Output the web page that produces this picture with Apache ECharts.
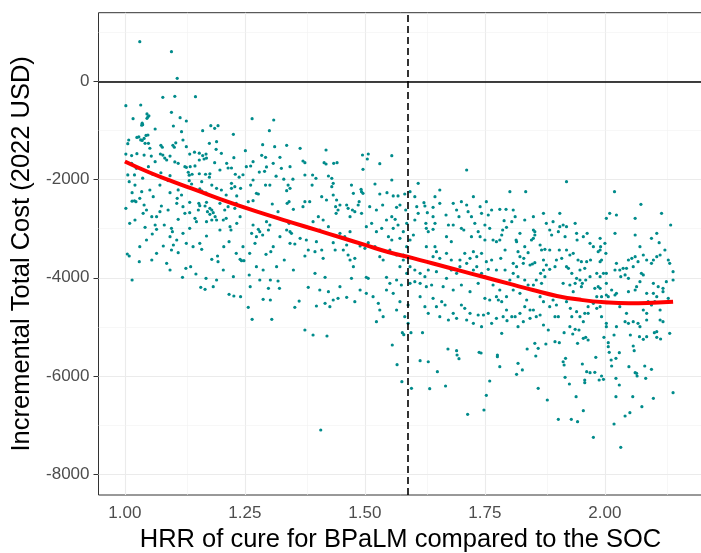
<!DOCTYPE html>
<html><head><meta charset="utf-8">
<script src="https://cdn.jsdelivr.net/npm/echarts@6/dist/echarts.min.js"></script>
<style>html,body{margin:0;padding:0;background:#fff}#c{width:701px;height:553px}</style>
</head><body><div id="c"></div>
<script>
// Scatter points: [HRR, incremental cost]
const points = [
[1.031,811],[1.097,607],[1.109,65],[1.002,-493],[1.033,-479],[1.079,-322],[1.104,-302],[1.147,-309],[1.017,-758],[1.046,-660],[1.048,-720],[1.050,-700],[1.046,-750],[1.035,-890],[1.036,-850],[1.037,-880],[1.097,-628],[1.115,-737],[1.128,-805],[1.063,-968],[1.101,-907],[1.008,-1192],[1.006,-1268],[1.025,-1140],[1.029,-1130],[1.033,-1190],[1.036,-1200],[1.040,-1160],[1.044,-1100],[1.048,-1090],[1.042,-1260],[1.049,-1260],[1.052,-1360],[1.075,-1300],[1.078,-1340],[1.100,-1300],[1.103,-1340],[1.106,-1250],[1.128,-1328],[1.002,-1480],[1.014,-1510],[1.025,-1470],[1.040,-1500],[1.055,-1520],[1.079,-1500],[1.083,-1560],[1.094,-1520],[1.104,-1640],[1.135,-1480],[1.145,-1440],[1.155,-1460],[1.162,-1510],[1.169,-1480],[1.165,-1580],[1.170,-1560],[1.155,-1600],[1.187,-1655],[1.227,-1553],[1.285,-1504],[1.293,-1545],[1.323,-1545],[1.125,-1736],[1.128,-1750],[1.136,-1736],[1.146,-1720],[1.215,-1763],[1.222,-1763],[1.262,-1722],[1.246,-1900],[1.280,-1845],[1.291,-1830],[1.295,-1740],[1.006,-1905],[1.020,-1905],[1.037,-1970],[1.058,-1890],[1.075,-1860],[1.132,-1850],[1.134,-1910],[1.140,-1890],[1.155,-1880],[1.168,-1890],[1.177,-1880],[1.176,-1950],[1.315,-1930],[1.331,-1990],[1.350,-1990],[1.230,-1890],[1.238,-1950],[1.094,-1920],[1.162,-1003],[1.179,-900],[1.187,-955],[1.194,-900],[1.176,-1260],[1.190,-1382],[1.226,-1077],[1.265,-758],[1.310,-785],[1.301,-1003],[1.287,-1288],[1.312,-1328],[1.337,-1300],[1.251,-1410],[1.111,-1667],[1.074,-1478],
[1.198,-1804],[1.212,-1667],[1.253,-1736],[1.267,-1634],[1.309,-1667],[1.326,-1769],[1.344,-1736],[1.191,-1227],[1.201,-1463],[1.121,-1192],[1.118,-1023],[1.087,-1600],[1.063,-1634],[1.049,-1736],[1.014,-1667],[1.024,-1769],
[1.009,-2042],[1.021,-2110],[1.015,-2266],[1.015,-2440],[1.020,-2430],[1.023,-2450],[1.002,-2585],[1.040,-2517],[1.073,-2110],[1.090,-2020],[1.094,-2266],[1.111,-2210],[1.118,-2313],[1.109,-2380],[1.134,-2021],[1.139,-2089],[1.160,-2042],[1.156,-2190],[1.160,-2230],[1.169,-2270],[1.181,-2110],[1.191,-2177],[1.201,-2211],[1.211,-2313],[1.222,-2177],[1.229,-2143],[1.233,-2333],[1.222,-2075],[1.135,-2462],[1.154,-2483],[1.156,-2531],[1.170,-2462],[1.167,-2537],[1.177,-2585],[1.172,-2653],[1.181,-2619],[1.184,-2673],[1.177,-2707],[1.188,-2755],[1.181,-2823],[1.170,-2857],[1.191,-2823],[1.205,-2823],[1.211,-2789],[1.153,-2619],[1.146,-2789],[1.149,-2857],[1.125,-2687],[1.135,-2673],[1.111,-2809],[1.056,-2755],[1.066,-2755],[1.063,-2925],[1.066,-3013],[1.076,-2537],[1.073,-2653],[1.090,-2619],[1.082,-2925],[1.097,-2992],[1.099,-3061],[1.094,-3163],[1.042,-2971],[1.057,-3108],[1.080,-3353],[1.097,-3434],[1.101,-3332],[1.111,-3489],[1.005,-3516],[1.009,-3556],[1.030,-3672],[1.015,-4045],[1.160,-3420],[1.170,-3149],[1.181,-3624],[1.193,-3556],[1.194,-3672],[1.206,-3366],[1.217,-3265],[1.221,-3026],[1.232,-3502],[1.240,-3624],[1.243,-3652],[1.248,-3652],[1.127,-3807],[1.137,-3774],[1.120,-3990],[1.148,-3923],[1.169,-4011],[1.158,-4194],[1.167,-4235],[1.217,-4337],[1.227,-4372],[1.241,-4386],[1.257,-4602],[1.265,-4846],[1.306,-4846],[1.259,-3944],[1.261,-4181],[1.281,-4045],[1.303,-4045],[1.319,-4066],[1.299,-4215],[1.322,-4215],[1.288,-4439],[1.303,-4453],[1.363,-4474],[1.354,-4602],[1.267,-2925],[1.281,-3061],[1.295,-2857],[1.302,-2925],[1.299,-3026],[1.278,-3013],[1.287,-3128],[1.271,-3298],[1.294,-3522],[1.304,-3469],[1.309,-3367],[1.332,-3638],[1.344,-3298],[1.354,-3312],[1.344,-3061],[1.342,-2890],[1.351,-2605],[1.338,-2483],[1.342,-2449],[1.319,-2653],[1.307,-2497],[1.257,-2449],[1.267,-2429],[1.274,-2279],[1.278,-2293],[1.262,-2110],[1.267,-2007],[1.293,-2110],[1.302,-2110],[1.340,-2110],[1.344,-2177],[1.337,-2225],[1.241,-2177],[1.229,-2585],[1.232,-2483],[1.347,-3094],[1.264,-3094],[1.274,-3163],
[1.052,-2211],[1.059,-2347],[1.035,-2246],[1.031,-2381],[1.045,-2619],[1.038,-2686],[1.021,-2823],[1.010,-2890],[1.108,-2483],[1.121,-2551],[1.198,-2483],[1.208,-2619],[1.215,-2551],[1.240,-2755],[1.233,-2890],[1.219,-2959],[1.198,-3026],[1.135,-2992],[1.121,-3094],[1.108,-3230],[1.128,-3298],[1.045,-3230],[1.031,-3366],[1.142,-3366],[1.156,-3298],[1.246,-3366],[1.260,-3502],[1.323,-3163],[1.337,-3026],[1.316,-3774],[1.351,-3842],[1.274,-3774],[1.288,-3842],[1.205,-3842],[1.226,-3977],[1.191,-4045],[1.184,-4181],[1.087,-3706],[1.094,-3842],[1.066,-3502],[1.056,-3638],
[1.365,-1361],[1.371,-1620],[1.375,-1655],[1.419,-1396],[1.415,-1655],[1.419,-1681],[1.435,-1667],[1.442,-1655],[1.495,-1498],[1.507,-1478],[1.505,-1580],[1.531,-1675],[1.556,-1512],[1.496,-1790],
[1.375,-1906],[1.391,-1906],[1.398,-1973],[1.424,-1926],[1.390,-2110],[1.431,-1973],[1.431,-2143],[1.434,-2075],[1.375,-2449],[1.385,-2449],[1.371,-2551],[1.410,-2347],[1.420,-2415],[1.434,-2313],[1.441,-2415],[1.448,-2517],[1.439,-2551],[1.444,-2619],[1.440,-2686],[1.462,-2517],[1.465,-2585],[1.486,-2517],[1.488,-2449],[1.493,-2686],[1.479,-2653],[1.469,-2755],[1.474,-2619],[1.472,-2110],[1.476,-2279],[1.493,-2246],[1.496,-2279],[1.492,-2197],[1.521,-2089],[1.531,-2293],[1.556,-2007],[1.546,-2266],[1.559,-2333],[1.569,-2333],[1.583,-2293],[1.594,-2246],[1.611,-2075],[1.604,-2347],[1.510,-2551],[1.524,-2619],[1.537,-2517],[1.545,-2823],[1.556,-2755],[1.563,-2809],[1.566,-2564],[1.573,-2517],[1.585,-2619],[1.623,-2470],[1.625,-2537],[1.642,-2564],[1.630,-2673],[1.627,-2890],[1.628,-2992],[1.632,-3061],[1.642,-3012],[1.646,-2890],[1.656,-2211],[1.669,-2721],[1.674,-2925],[1.684,-2925],[1.691,-2619],[1.696,-2755],[1.701,-2992],[1.706,-3026],[1.715,-2653],[1.722,-2755],[1.729,-2890],[1.736,-3061],[1.722,-3163],[1.750,-2925],[1.743,-2686],[1.757,-2721],[1.767,-3230],[1.774,-3265],[1.760,-2992],
[1.403,-2755],[1.413,-2823],[1.392,-2857],[1.424,-2959],[1.406,-3026],[1.385,-2992],[1.448,-3094],[1.458,-3163],[1.469,-3061],[1.503,-2959],[1.514,-2890],[1.524,-3061],[1.535,-2992],[1.559,-2992],[1.569,-2925],[1.580,-3061],[1.587,-2890],[1.608,-2551],[1.611,-2686],[1.604,-2823],[1.594,-3774],[1.587,-3909],[1.604,-3842],[1.580,-3638],[1.573,-3774],[1.628,-3366],[1.632,-3842],[1.625,-3977],[1.615,-3909],[1.680,-3842],[1.691,-3909],[1.698,-3774],[1.726,-3842],[1.733,-3774],[1.740,-3163],[1.750,-3230],[1.670,-3163],[1.680,-3265],[1.684,-2483],[1.701,-2449],[1.712,-2517],[1.726,-2347],[1.740,-2551],[1.753,-2449],[1.764,-2619],[1.646,-2347],[1.656,-2483],[1.642,-2755],[1.406,-4249],[1.448,-4181],[1.490,-4249],[1.503,-4317],[1.479,-4487],[1.538,-4793],[1.524,-4895],[1.656,-4793],[1.674,-4861],[1.684,-4724],[1.712,-4861],[1.726,-4928],[1.743,-4997],[1.764,-4928],[1.774,-4826],
[1.365,-3196],[1.378,-3230],[1.382,-3434],[1.396,-3469],[1.410,-3434],[1.413,-3604],[1.399,-3265],[1.375,-3556],[1.434,-3285],[1.438,-3434],[1.455,-3434],[1.462,-3332],[1.465,-3536],[1.469,-3638],[1.476,-3774],[1.479,-3604],[1.490,-3353],[1.500,-3400],[1.507,-3285],[1.521,-3366],[1.531,-3571],[1.538,-3638],[1.549,-3163],[1.552,-3434],[1.556,-3230],[1.573,-3196],[1.566,-3536],[1.580,-3536],[1.587,-3366],[1.594,-3230],[1.601,-3128],[1.646,-3366],[1.649,-3469],[1.642,-3571],[1.656,-3604],[1.670,-3502],[1.680,-3638],[1.698,-3638],[1.708,-3502],[1.712,-3706],[1.719,-3604],[1.726,-3469],[1.733,-3571],[1.743,-3502],[1.753,-3672],[1.764,-3638],[1.774,-3842],[1.757,-3828],[1.743,-3909],
[1.396,-3909],[1.417,-3990],[1.472,-4011],[1.503,-3990],[1.507,-4011],[1.545,-3990],[1.552,-4113],[1.566,-4045],[1.576,-4147],[1.594,-4113],[1.604,-4080],[1.615,-4113],[1.628,-4181],[1.639,-4147],[1.649,-3876],[1.670,-4011],[1.663,-4181],[1.684,-4249],[1.701,-4147],[1.719,-4283],[1.736,-4113],[1.750,-3977],[1.767,-4147],[1.781,-4249],[1.774,-4386],[1.382,-4194],[1.424,-4283],[1.434,-4453],[1.444,-4419],[1.462,-4398],[1.427,-4589],[1.399,-4575],[1.417,-4521],[1.517,-4386],[1.528,-4521],[1.531,-4657],[1.545,-4249],[1.559,-4317],[1.573,-4487],[1.566,-4657],[1.583,-4793],[1.590,-4555],[1.615,-4386],[1.625,-4589],[1.632,-4724],[1.642,-4419],[1.649,-4589],[1.660,-4487],[1.667,-4555],[1.691,-4826],[1.701,-4555],[1.708,-4622],[1.736,-4759],[1.747,-4759],[1.757,-4724],[1.750,-4419],[1.760,-4453],[1.778,-4453],[1.719,-4724],[1.590,-4928],[1.712,-1804],
[1.375,-5064],[1.392,-5166],[1.421,-5187],[1.408,-7102],[1.578,-5119],[1.581,-5160],[1.596,-5119],[1.620,-5119],[1.557,-5370],[1.567,-5771],[1.577,-6118],[1.597,-6253],[1.615,-5690],[1.632,-5711],[1.651,-5914],[1.635,-6261],[1.668,-6206],[1.673,-5452],[1.691,-5486],[1.692,-5574],[1.696,-5649],[1.738,-5519],[1.742,-5533],[1.776,-5574],[1.776,-5608],[1.760,-6104],[1.753,-6396],[1.748,-6695],[1.714,-6783],
[1.785,-5132],[1.882,-5064],[1.915,-5119],[1.933,-5146],[1.946,-5064],[1.854,-5336],[1.861,-5438],[1.877,-5350],[1.896,-5302],[1.905,-5323],[1.838,-5452],[1.856,-5594],[1.781,-5812],[1.819,-5743],[1.828,-5879],[1.816,-5968],[1.861,-6253],[1.880,-6491],[1.903,-6884],[1.930,-6884],[1.943,-6933],[1.918,-5642],[1.913,-5711],[1.915,-5778],[1.926,-6165],[1.917,-6029],[1.940,-6424],[1.943,-5336],[1.955,-5234],[1.960,-5214],[1.965,-5268],[1.953,-5757],[1.962,-5914],[1.969,-5934],[1.979,-5927],[1.958,-6083],[1.958,-6138],[1.981,-5621],[1.988,-6083],[1.993,-6002],[1.997,-6069],[1.955,-6709],[1.976,-7251],[1.998,-5214],[2.007,-5323],[2.007,-5404],[2.009,-5519],[2.013,-5676],[2.014,-5798],[2.023,-5642],[2.030,-5527],[2.019,-5166],[2.023,-6049],[2.030,-6185],[2.023,-6424],[2.019,-6980],[2.033,-7455],[2.042,-6817],[2.052,-6750],[2.058,-6424],[2.050,-5812],[2.053,-5166],[2.059,-5390],[2.061,-5486],[2.066,-5947],[2.067,-6002],[2.063,-5934],[2.072,-5200],[2.080,-5254],[2.087,-5200],[2.083,-5798],[2.085,-6049],[2.097,-5866],[2.101,-6456],[2.077,-6627],[2.103,-5119],[2.108,-5098],[2.108,-5214],[2.116,-5248],[2.135,-5132],[2.142,-6342],
[1.802,-2245],[1.835,-2245],[1.920,-2042],[1.781,-2605],[1.794,-2605],[1.790,-2837],[1.806,-2857],[1.795,-2971],[1.787,-3026],[1.785,-3128],[1.781,-3230],[1.792,-3434],[1.783,-3604],[1.816,-3265],[1.819,-3469],[1.833,-3366],[1.831,-3604],[1.840,-3489],[1.847,-3230],[1.854,-3128],[1.851,-3026],[1.844,-3740],[1.854,-3693],[1.809,-3706],[1.816,-3774],[1.865,-3332],[1.868,-3434],[1.875,-3420],[1.885,-3434],[1.889,-3128],[1.885,-3026],[1.892,-2857],[1.878,-2890],[1.903,-3061],[1.906,-2959],[1.913,-2925],[1.920,-2959],[1.917,-3163],[1.905,-3434],[1.910,-3604],[1.899,-3638],[1.896,-3774],[1.885,-3828],[1.872,-3842],[1.866,-3909],[1.875,-3977],[1.868,-4113],[1.857,-4045],[1.851,-4147],[1.851,-3196],[1.849,-3719],[1.792,-3842],[1.819,-3977],[1.833,-4045],[1.840,-4147],[1.809,-4249],[1.823,-4317],[1.837,-4453],[1.795,-4386],[1.785,-4487],[1.806,-4793],[1.813,-4793],[1.833,-4589],[1.844,-4657],[1.844,-4826],[1.796,-4874],[1.872,-4963],[1.896,-4793],[1.903,-4793],[1.941,-3094],[1.942,-3230],[1.944,-3638],[1.951,-3672],[1.962,-3672],[1.970,-3638],[1.958,-3807],[1.948,-3842],[1.953,-4113],[1.941,-4011],[1.931,-3909],[1.924,-3807],[1.920,-3774],[1.913,-4113],[1.927,-4147],[1.938,-4113],[1.948,-4045],[1.951,-4181],[1.934,-4283],[1.928,-4622],[1.941,-4691],[1.948,-4793],[1.958,-4724],[1.965,-4724],[1.955,-4895],[1.931,-4793],[1.927,-4997],[1.938,-5051],[1.990,-3196],[2.000,-3298],[1.990,-3434],[1.986,-3469],[2.002,-3502],[1.993,-3638],[1.990,-3672],[2.003,-3909],[1.997,-3909],[1.990,-4215],[1.986,-4181],[1.979,-4215],[1.983,-4386],[1.993,-4386],[2.003,-4351],[2.007,-4386],[2.021,-4351],[2.024,-4317],[2.021,-3842],[2.031,-3842],[2.038,-3807],[2.045,-3807],[2.024,-3706],[2.049,-3638],[2.056,-3604],[2.063,-3571],[2.069,-3672],[2.059,-3774],[2.073,-3366],[2.063,-3128],[2.080,-3536],[2.087,-3638],[2.097,-3706],[2.101,-3638],[2.108,-3571],[2.115,-3536],[2.125,-3434],[2.132,-3638],[2.135,-3706],[2.142,-3876],[2.142,-4045],[2.128,-4080],[2.010,-2686],[2.003,-2789],[2.024,-2721],[2.021,-3094],[2.020,-2245],[2.063,-2789],[2.075,-2503],[2.118,-2686],[2.108,-3094],[2.097,-3196],[2.113,-3285],[2.137,-2925],[1.983,-4622],[1.990,-4589],[1.993,-4793],[2.003,-4928],[2.003,-4997],[2.024,-4997],[2.042,-4895],[2.049,-4928],[2.059,-4895],[2.069,-4928],[2.073,-4997],[2.087,-4861],[2.115,-4861],[2.121,-4895],[2.003,-4113],[2.014,-4249],[2.049,-4283],[2.073,-4080],[2.087,-4317],[2.101,-4317],[2.108,-4386],[2.121,-4215],[2.132,-4419],[2.115,-4657],[2.080,-4657],[2.087,-4724],[2.031,-4589],[2.045,-4724],
[1.872,-2686],[1.854,-3061],[1.823,-3094],[1.815,-3230],[1.991,-3366],[1.960,-4045],[1.969,-3977],[1.983,-3909],[1.990,-3977],[2.033,-3977],[2.042,-3943],[2.049,-4011],[2.076,-3909],[2.080,-3943],[2.066,-4181],[2.063,-4249],[2.101,-4113],[2.111,-4181],[2.121,-4283],[2.090,-4487],[2.097,-4555],[2.104,-4487],[1.976,-4521],[1.965,-4589],[1.927,-4419],[1.920,-4487],[1.892,-4453],[1.899,-4555],[1.885,-4589],[1.865,-4386],[1.872,-4487],[1.851,-4657],[1.857,-4793],[1.865,-4759],[1.823,-4724],[1.830,-4895],[1.819,-4997],[1.795,-4657],[1.788,-4793],[1.802,-4045],[1.809,-3909],[1.823,-3571],[1.830,-3706],[1.872,-3638],[1.878,-3740],[1.920,-3434],[1.927,-3536],[1.934,-3502],[1.969,-3298],[1.976,-3366],[1.955,-3163],[1.963,-3094],[1.938,-2890],[1.906,-2686],[1.851,-2755],[1.833,-2823],[1.809,-2619],[1.813,-2755]
];
// Smoothed (loess) trend
const smoothX = [1.00,1.05,1.10,1.15,1.20,1.25,1.30,1.35,1.40,1.45,1.50,1.55,1.60,1.65,1.70,1.75,1.80,1.85,1.90,1.95,2.00,2.05,2.10,2.142];
const smoothY = [-1630,-1850,-2040,-2220,-2400,-2570,-2730,-2880,-3030,-3180,-3330,-3480,-3600,-3730,-3860,-3990,-4120,-4250,-4370,-4450,-4500,-4520,-4510,-4490];
const xTicks = [1.00,1.25,1.50,1.75,2.00];
const yTicks = [0,-2000,-4000,-6000,-8000];
const xMinor = [1.125,1.375,1.625,1.875,2.125];
const yMinor = [1000,-1000,-3000,-5000,-7000];
const thresholdHRR = 1.592;

const FONT = '"Liberation Sans", Arial, Helvetica, sans-serif';
const chart = echarts.init(document.getElementById('c'), null, {renderer:'canvas'});
const gridLines = [];
xTicks.forEach(v => gridLines.push({xAxis:v, lineStyle:{color:'#ebebeb', width:1.1, type:'solid'}}));
xMinor.forEach(v => gridLines.push({xAxis:v, lineStyle:{color:'#f2f2f2', width:0.6, type:'solid'}}));
yTicks.forEach(v => gridLines.push({yAxis:v, lineStyle:{color:'#ebebeb', width:1.1, type:'solid'}}));
yMinor.forEach(v => gridLines.push({yAxis:v, lineStyle:{color:'#f2f2f2', width:0.6, type:'solid'}}));

chart.setOption({
  animation:false,
  backgroundColor:'#ffffff',
  grid:{left:98.5, top:12.7, width:604, height:482.3, outerBoundsMode:'none', containLabel:false,
    show:true, borderColor:'#333333', borderWidth:1, backgroundColor:'transparent'},
  xAxis:{type:'value', min:0.945, max:2.2033,
    name:'HRR of cure for BPaLM compared to the SOC', nameLocation:'middle', nameGap:28,
    nameTextStyle:{fontFamily:FONT, fontSize:25.5, color:'#000'},
    axisLine:{show:false}, splitLine:{show:false},
    axisTick:{show:true, customValues:xTicks, length:5, lineStyle:{color:'#333', width:1}},
    axisLabel:{customValues:xTicks, formatter:v=>Number(v).toFixed(2), fontFamily:FONT, fontSize:17, color:'#4d4d4d', margin:10}
  },
  yAxis:{type:'value', min:-8427, max:1402,
    name:'Incremental Total Cost (2022 USD)', nameLocation:'middle', nameGap:61, nameRotate:90,
    nameTextStyle:{fontFamily:FONT, fontSize:25.5, color:'#000'},
    axisLine:{show:false}, splitLine:{show:false},
    axisTick:{show:true, customValues:yTicks, length:5, lineStyle:{color:'#333', width:1}},
    axisLabel:{customValues:yTicks, formatter:v=>String(v), fontFamily:FONT, fontSize:17, color:'#4d4d4d', margin:9}
  },
  series:[
    {type:'line', data:[], z:1, silent:true,
      markLine:{z:1, silent:true, symbol:['none','none'], label:{show:false}, animation:false, data:gridLines}},
    {type:'scatter', data:points, symbol:'circle', symbolSize:3.2, z:3,
      itemStyle:{color:'#008b8b', opacity:1}},
    {type:'line', data:smoothX.map((x,i)=>[x,smoothY[i]]), smooth:true, showSymbol:false, z:4,
      lineStyle:{color:'#ff0000', width:4}},
    {type:'line', data:[], z:5, silent:true,
      markLine:{z:6, silent:true, symbol:['none','none'], label:{show:false}, animation:false,
        data:[{yAxis:0, lineStyle:{color:'#000', width:1.6, type:'solid'}},
              {xAxis:thresholdHRR, lineStyle:{color:'#000', width:1.6, type:[7,4]}}]}}
  ]
});
</script></body></html>
